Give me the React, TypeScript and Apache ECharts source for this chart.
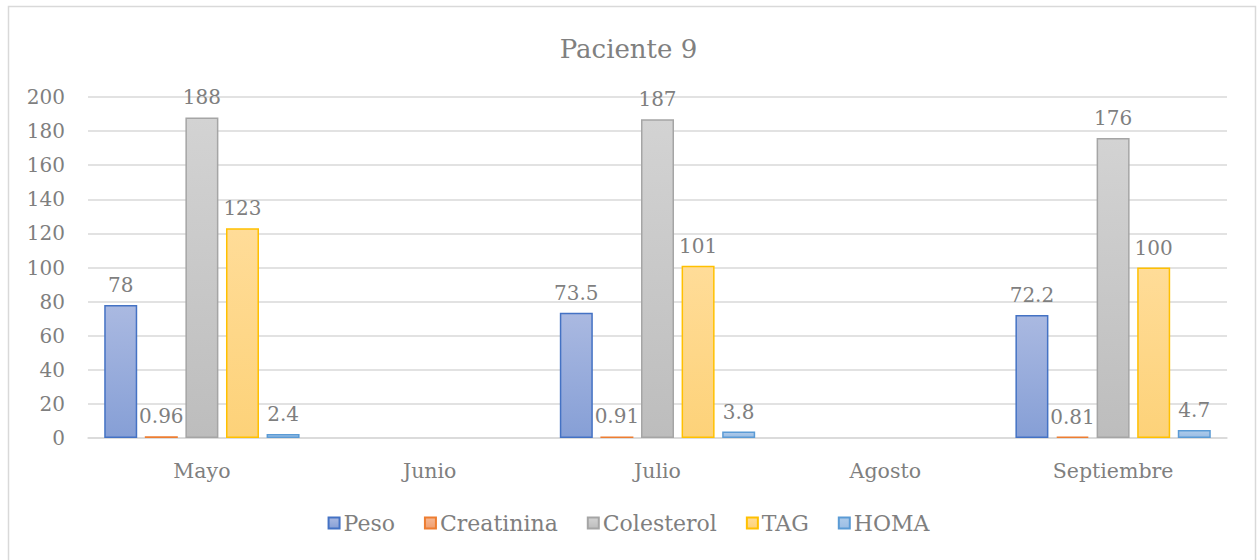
import React, { useEffect, useRef } from "react";
import * as echarts from "echarts";

const categories = ["Mayo", "Junio", "Julio", "Agosto", "Septiembre"];
const peso = [78, null, 73.5, null, 72.2];
const creatinina = [0.96, null, 0.91, null, 0.81];
const colesterol = [188, null, 187, null, 176];
const tag = [123, null, 101, null, 100];
const homa = [2.4, null, 3.8, null, 4.7];
const yTicks = { min: 0, max: 200, interval: 20 };

const FONT = "DejaVu Serif";
const TXT = "#7f7f7f";

function grad(top: string, bottom: string) {
  return new echarts.graphic.LinearGradient(0, 0, 0, 1, [
    { offset: 0, color: top },
    { offset: 1, color: bottom },
  ]);
}

export default function App() {
  const ref = useRef<HTMLDivElement>(null);
  useEffect(() => {
    const chart = echarts.init(ref.current!, undefined, { renderer: "svg" });
    const mk = (name: string, data: (number | null)[], top: string, bottom: string, border: string) => ({
      name,
      type: "bar",
      data,
      barWidth: 33,
      barGap: "23%",
      itemStyle: { color: grad(top, bottom), borderColor: border, borderWidth: 1.5 },
      label: {
        show: true,
        position: "top",
        distance: 10,
        fontFamily: FONT,
        fontSize: 20,
        color: TXT,
      },
    });
    chart.setOption({
      animation: false,
      textStyle: { fontFamily: FONT },
      title: {
        text: "Paciente 9",
        left: "center",
        top: 31,
        textStyle: { fontFamily: FONT, fontSize: 26, fontWeight: "normal", color: "#808080" },
      },
      graphic: [
        {
          type: "rect",
          shape: { x: 8.5, y: 6.5, width: 1247, height: 560 },
          style: { fill: "none", stroke: "#d9d9d9", lineWidth: 1.5 },
          silent: true,
        },
      ],
      legend: {
        bottom: 21,
        left: "center",
        itemWidth: 11,
        itemHeight: 11,
        itemGap: 29,
        icon: "rect",
        textStyle: { fontFamily: FONT, fontSize: 22, color: TXT, padding: [0, 0, 0, -1] },
      },
      grid: { left: 88, right: 30, top: 97, bottom: 122 },
      xAxis: {
        type: "category",
        data: categories,
        axisTick: { show: false },
        axisLine: { lineStyle: { color: "#d9d9d9", width: 1.5 } },
        axisLabel: { fontFamily: FONT, fontSize: 20.5, color: TXT, margin: 22 },
      },
      yAxis: {
        type: "value",
        min: yTicks.min,
        max: yTicks.max,
        interval: yTicks.interval,
        axisLine: { show: false },
        axisTick: { show: false },
        axisLabel: { fontFamily: FONT, fontSize: 20, color: TXT, margin: 23 },
        splitLine: { lineStyle: { color: "#d9d9d9", width: 1.5 } },
      },
      series: [
        mk("Peso", peso, "#aab9e1", "#869fd6", "#4472c4"),
        mk("Creatinina", creatinina, "#f6b894", "#f19f6f", "#ed7d31"),
        mk("Colesterol", colesterol, "#d3d3d3", "#bdbdbd", "#a5a5a5"),
        mk("TAG", tag, "#ffdc98", "#fdd279", "#ffc000"),
        mk("HOMA", homa, "#aecbea", "#9bbde4", "#5b9bd5"),
      ],
    });
    return () => chart.dispose();
  }, []);
  return (
    <div
      ref={ref}
      style={{ position: "fixed", left: 0, top: 0, width: 1257, height: 560, background: "#fff" }}
    />
  );
}
